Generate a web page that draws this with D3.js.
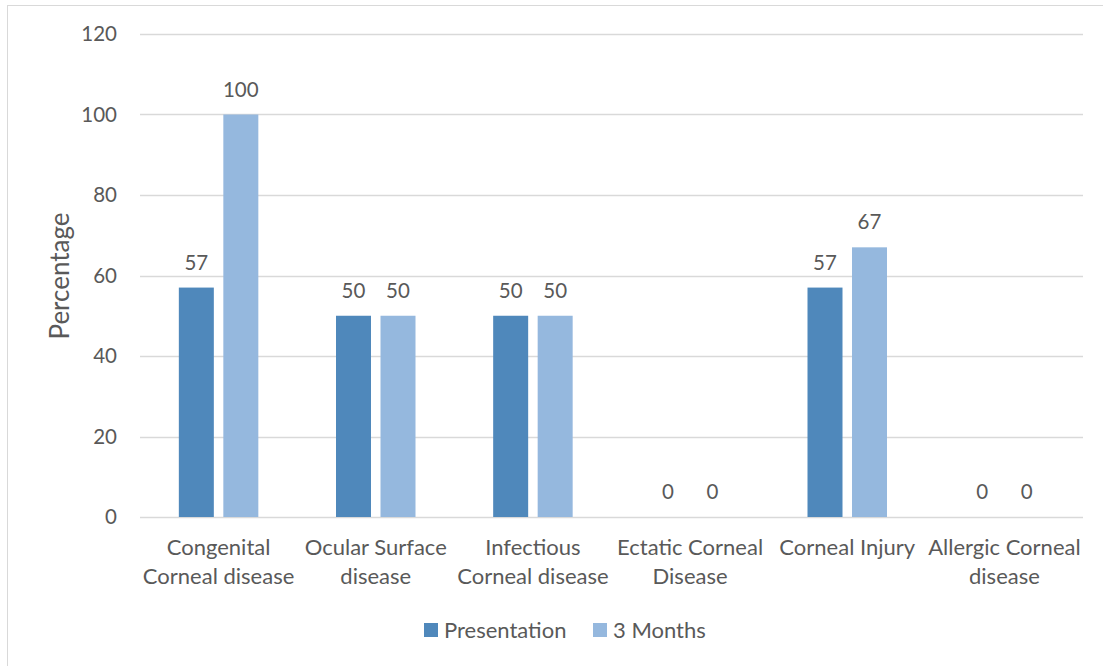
<!DOCTYPE html>
<html>
<head>
<meta charset="utf-8">
<script src="https://cdn.jsdelivr.net/npm/d3@7"></script>
<style>
  body { margin: 0; background: #fff; }
  text { font-family: Lato, "Open Sans", sans-serif; fill: #595959; }
</style>
</head>
<body>
<script>
const width = 1103
const height = 666

// data
const categories = [
  ["Congenital", "Corneal disease"],
  ["Ocular Surface", "disease"],
  ["Infectious", "Corneal disease"],
  ["Ectatic Corneal", "Disease"],
  ["Corneal Injury"],
  ["Allergic Corneal", "disease"]
];
const seriesNames = ["Presentation", "3 Months"];
const presentation = [57, 50, 50, 0, 57, 0];
const threeMonths = [100, 50, 50, 0, 67, 0];
const yTicks = [0, 20, 40, 60, 80, 100, 120];
const colors = ["#4f88bb", "#95b8de"];

const margin = {left: 140, right: 20, top: 34, bottom: 149};

const svg = d3.select("body").append("svg")
    .attr("width", width)
    .attr("height", height);

// chart border (right/bottom edges fall outside the picture)
svg.append("rect")
    .attr("x", 7.5).attr("y", 5.5)
    .attr("width", 1110).attr("height", 680)
    .attr("fill", "none")
    .attr("stroke", "#d9d9d9");

const x0 = d3.scaleBand()
    .domain(d3.range(categories.length))
    .range([margin.left, 1083]);

const y = d3.scaleLinear()
    .domain([0, 120])
    .range([517, margin.top]);

const barW = 35;
const innerGap = 9.5;

// gridlines
svg.append("g")
    .selectAll("line")
    .data(yTicks)
    .enter().append("line")
    .attr("x1", margin.left).attr("x2", 1083)
    .attr("y1", d => Math.round(y(d)) + 0.5)
    .attr("y2", d => Math.round(y(d)) + 0.5)
    .attr("stroke", "#d9d9d9")
    .attr("stroke-width", 1.5);

// y tick labels
svg.append("g")
    .selectAll("text")
    .data(yTicks)
    .enter().append("text")
    .attr("x", 117)
    .attr("y", d => y(d))
    .attr("dy", "0.35em")
    .attr("text-anchor", "end")
    .style("font-size", "20.5px")
    .text(d => d);

// y axis title
svg.append("text")
    .attr("transform", "translate(69,276) rotate(-90)")
    .attr("text-anchor", "middle")
    .style("font-size", "26px")
    .text("Percentage");

const series = [presentation, threeMonths];

series.forEach((vals, s) => {
    const xPos = i => x0(i) + x0.bandwidth() / 2 + (s === 0 ? -innerGap / 2 - barW : innerGap / 2);

    svg.append("g")
        .selectAll("rect")
        .data(vals)
        .enter().append("rect")
        .attr("x", (d, i) => xPos(i))
        .attr("y", d => y(d))
        .attr("width", barW)
        .attr("height", d => y(0) - y(d))
        .attr("fill", colors[s]);

    svg.append("g")
        .selectAll("text")
        .data(vals)
        .enter().append("text")
        .attr("x", (d, i) => xPos(i) + barW / 2)
        .attr("y", d => y(d) - 18)
        .attr("text-anchor", "middle")
        .style("font-size", "20.5px")
        .text(d => d);
});

// category labels
const catG = svg.append("g")
    .selectAll("text")
    .data(categories)
    .enter().append("text")
    .attr("text-anchor", "middle")
    .style("font-size", "22px");

catG.selectAll("tspan")
    .data((d, i) => d.map(t => ({t, i})))
    .enter().append("tspan")
    .attr("x", d => x0(d.i) + x0.bandwidth() / 2)
    .attr("y", (d, j) => 555 + j * 29)
    .text(d => d.t);

// legend
const legendItems = [
  {name: seriesNames[0], color: colors[0], x: 424},
  {name: seriesNames[1], color: colors[1], x: 593}
];
const lg = svg.append("g")
    .selectAll("g")
    .data(legendItems)
    .enter().append("g");

lg.append("rect")
    .attr("x", d => d.x).attr("y", 623)
    .attr("width", 14).attr("height", 14)
    .attr("fill", d => d.color);

lg.append("text")
    .attr("x", d => d.x + 20)
    .attr("y", 630)
    .attr("dy", "0.35em")
    .style("font-size", "22px")
    .text(d => d.name);
</script>
</body>
</html>
